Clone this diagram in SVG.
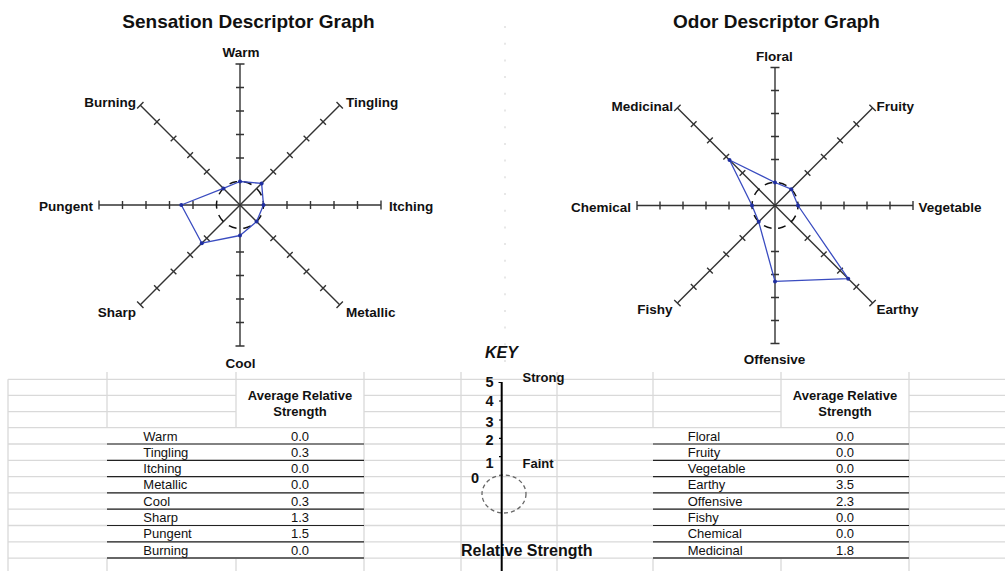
<svg xmlns="http://www.w3.org/2000/svg" xmlns:xlink="http://www.w3.org/1999/xlink" width="1005" height="571" viewBox="0 0 1005 571">
<style>
text{font-family:"Liberation Sans",Arial,sans-serif;fill:#111}
.title{font-size:19px;font-weight:bold;text-anchor:middle}
.ax{font-size:13.5px;font-weight:bold}
.mid{text-anchor:middle}
.end{text-anchor:end}
.cell{font-size:13px;fill:#222}
.hdr{font-size:13px;font-weight:bold;text-anchor:middle}
.axis{stroke:#333;stroke-width:1.4;fill:none}
.zero{stroke:#111;stroke-width:1.5;fill:none;stroke-dasharray:8 6.76}
.poly{stroke:#3a4cc0;stroke-width:1.3;fill:none;stroke-linejoin:round}
.pt{fill:#1f2e9f}
.grid{stroke:#d9d9d9;stroke-width:1.3}
.rowline{stroke:#222;stroke-width:1.2}
.rowlast{stroke:#666;stroke-width:2}
.key{font-size:14.5px;font-weight:bold}
</style>
<defs>
<g id="ray-s" class="axis">
<line x1="0" y1="0" x2="141" y2="0"/>
<path d="M47,-4V4M70.5,-4V4M94,-4V4M117.5,-4V4M141,-4.5V4.5"/>
</g>
<g id="ray-o" class="axis">
<line x1="0" y1="0" x2="138" y2="0"/>
<path d="M46,-4V4M69,-4V4M92,-4V4M115,-4V4M138,-4.5V4.5"/>
</g>
</defs>
<rect width="1005" height="571" fill="#fff"/>

<!-- spreadsheet grid -->
<g id="grid">
<path class="grid" d="M8,379.3H1005M8,395.3H236M364,395.3H781M909,395.3H1005M8,411.7H236M364,411.7H781M909,411.7H1005M8,427.7H1005
M8,444H1005M8,460.3H1005M8,476.6H1005M8,492.9H1005M8,509.2H1005M8,525.5H1005M8,541.8H1005M8,558.1H1005
M8,379.3V571M107,372V428M107,558V571M236,372V428M236,558V571M364,372V571M461,372V571M557,372V571M653,372V428M653,558V571M781,372V428M781,558V571M909,372V571"/>
<path class="rowline" d="M107,444H364M107,460.3H364M107,476.6H364M107,492.9H364M107,509.2H364M107,525.5H364M107,541.8H364M653,444H909M653,460.3H909M653,476.6H909M653,492.9H909M653,509.2H909M653,525.5H909M653,541.8H909"/>
<path class="rowlast" d="M107,558.1H364M653,558.1H909"/>
<line x1="505" y1="26" x2="505" y2="370" stroke="#d8d8d8" stroke-width="1.2" stroke-dasharray="2 14.7"/>
</g>

<!-- Sensation chart -->
<g id="sensation-graph">
<text class="title" x="248.5" y="28">Sensation Descriptor Graph</text>
<use xlink:href="#ray-s" transform="translate(240,205) rotate(0)"/>
<use xlink:href="#ray-s" transform="translate(240,205) rotate(45)"/>
<use xlink:href="#ray-s" transform="translate(240,205) rotate(90)"/>
<use xlink:href="#ray-s" transform="translate(240,205) rotate(135)"/>
<use xlink:href="#ray-s" transform="translate(240,205) rotate(180)"/>
<use xlink:href="#ray-s" transform="translate(240,205) rotate(225)"/>
<use xlink:href="#ray-s" transform="translate(240,205) rotate(270)"/>
<use xlink:href="#ray-s" transform="translate(240,205) rotate(315)"/>
<circle class="zero" cx="240" cy="205" r="23.5" transform="rotate(-10 240 205)"/>
<g id="s-labels">
<text class="ax mid" x="241" y="56.5">Warm</text>
<text class="ax" x="346" y="107">Tingling</text>
<text class="ax" x="389" y="210.5">Itching</text>
<text class="ax" x="346" y="316.5">Metallic</text>
<text class="ax mid" x="240.5" y="367.5">Cool</text>
<text class="ax end" x="136" y="316.5">Sharp</text>
<text class="ax end" x="93" y="210.5">Pungent</text>
<text class="ax end" x="136" y="107">Burning</text>
</g>
<polygon class="poly" points="240,181.5 261.6,183.4 263.5,205 256.6,221.6 240,235.5 201.8,243.2 181.3,205 223.4,188.4"/>
<g class="pt">
<circle cx="240" cy="181.5" r="2"/><circle cx="261.6" cy="183.4" r="2"/><circle cx="263.5" cy="205" r="2"/><circle cx="256.6" cy="221.6" r="2"/>
<circle cx="240" cy="235.5" r="2"/><circle cx="201.8" cy="243.2" r="2"/><circle cx="181.3" cy="205" r="2"/><circle cx="223.4" cy="188.4" r="2"/>
</g>
</g>

<!-- Odor chart -->
<g id="odor-graph">
<text class="title" x="776.5" y="28">Odor Descriptor Graph</text>
<use xlink:href="#ray-o" transform="translate(775,205.5) rotate(0)"/>
<use xlink:href="#ray-o" transform="translate(775,205.5) rotate(45)"/>
<use xlink:href="#ray-o" transform="translate(775,205.5) rotate(90)"/>
<use xlink:href="#ray-o" transform="translate(775,205.5) rotate(135)"/>
<use xlink:href="#ray-o" transform="translate(775,205.5) rotate(180)"/>
<use xlink:href="#ray-o" transform="translate(775,205.5) rotate(225)"/>
<use xlink:href="#ray-o" transform="translate(775,205.5) rotate(270)"/>
<use xlink:href="#ray-o" transform="translate(775,205.5) rotate(315)"/>
<circle class="zero" cx="775" cy="205.5" r="23" style="stroke-dasharray:8 6.45" transform="rotate(-10 775 205.5)"/>
<g id="o-labels">
<text class="ax mid" x="774.5" y="60.5">Floral</text>
<text class="ax" x="876.5" y="110.5">Fruity</text>
<text class="ax" x="918.5" y="211.5">Vegetable</text>
<text class="ax" x="876.5" y="313.8">Earthy</text>
<text class="ax mid" x="774.5" y="364">Offensive</text>
<text class="ax end" x="672.5" y="313.8">Fishy</text>
<text class="ax end" x="631" y="211.5">Chemical</text>
<text class="ax end" x="673" y="110.5">Medicinal</text>
</g>
<polygon class="poly" points="775,182.5 791.3,189.2 798,205.5 848.2,278.7 775,281.4 758.7,221.8 752,205.5 729.5,160"/>
<g class="pt">
<circle cx="775" cy="182.5" r="2"/><circle cx="791.3" cy="189.2" r="2"/><circle cx="798" cy="205.5" r="2"/><circle cx="848.2" cy="278.7" r="2"/>
<circle cx="775" cy="281.4" r="2"/><circle cx="758.7" cy="221.8" r="2"/><circle cx="752" cy="205.5" r="2"/><circle cx="729.5" cy="160" r="2"/>
</g>
</g>

<!-- Key -->
<g id="key">
<text x="485" y="357.5" style="font-size:16px;font-weight:bold;font-style:italic">KEY</text>
<text class="key end" x="493.5" y="386.7">5</text>
<text class="key end" x="493.5" y="406">4</text>
<text class="key end" x="493.5" y="426.5">3</text>
<text class="key end" x="493.5" y="445">2</text>
<text class="key end" x="493.5" y="467.5">1</text>
<text class="key mid" x="475" y="483.3">0</text>
<text x="522.5" y="382" style="font-size:13px;font-weight:bold">Strong</text>
<text x="522.5" y="468" style="font-size:13px;font-weight:bold">Faint</text>
<ellipse cx="504" cy="494" rx="22" ry="19" fill="none" stroke="#666" stroke-width="1.3" stroke-dasharray="4 3"/>
<text x="461" y="556" style="font-size:16px;font-weight:bold">Relative Strength</text>
<path d="M501.7,382V571" stroke="#000" stroke-width="2"/>
<path d="M498.5,382.5H502M499,401H502M499,420H502M499,438.3H502M499,456.7H502" stroke="#000" stroke-width="1.2"/>
</g>

<!-- Sensation table -->
<g id="sensation-table">
<text class="hdr" x="300" y="399.5">Average Relative</text>
<text class="hdr" x="300" y="416">Strength</text>
<g class="cell">
<text x="143.3" y="440.5">Warm</text><text x="143.3" y="456.8">Tingling</text><text x="143.3" y="473.1">Itching</text><text x="143.3" y="489.4">Metallic</text>
<text x="143.3" y="505.7">Cool</text><text x="143.3" y="522">Sharp</text><text x="143.3" y="538.3">Pungent</text><text x="143.3" y="554.6">Burning</text>
</g>
<g class="cell" text-anchor="middle">
<text x="300" y="440.5">0.0</text><text x="300" y="456.8">0.3</text><text x="300" y="473.1">0.0</text><text x="300" y="489.4">0.0</text>
<text x="300" y="505.7">0.3</text><text x="300" y="522">1.3</text><text x="300" y="538.3">1.5</text><text x="300" y="554.6">0.0</text>
</g>
</g>

<!-- Odor table -->
<g id="odor-table">
<text class="hdr" x="845" y="399.5">Average Relative</text>
<text class="hdr" x="845" y="416">Strength</text>
<g class="cell">
<text x="687.7" y="440.5">Floral</text><text x="687.7" y="456.8">Fruity</text><text x="687.7" y="473.1">Vegetable</text><text x="687.7" y="489.4">Earthy</text>
<text x="687.7" y="505.7">Offensive</text><text x="687.7" y="522">Fishy</text><text x="687.7" y="538.3">Chemical</text><text x="687.7" y="554.6">Medicinal</text>
</g>
<g class="cell" text-anchor="middle">
<text x="845" y="440.5">0.0</text><text x="845" y="456.8">0.0</text><text x="845" y="473.1">0.0</text><text x="845" y="489.4">3.5</text>
<text x="845" y="505.7">2.3</text><text x="845" y="522">0.0</text><text x="845" y="538.3">0.0</text><text x="845" y="554.6">1.8</text>
</g>
</g>
</svg>
